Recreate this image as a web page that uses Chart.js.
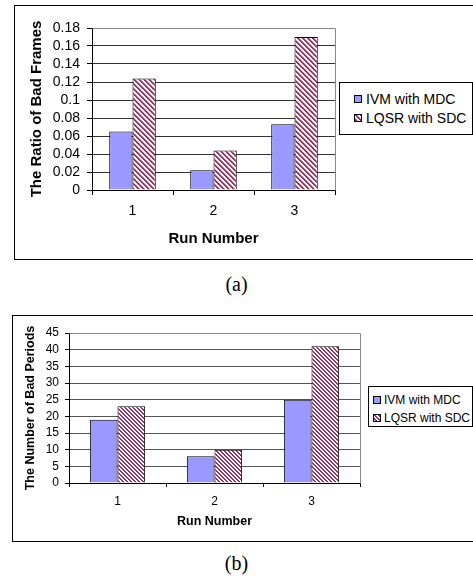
<!DOCTYPE html>
<html>
<head>
<meta charset="utf-8">
<script src="https://cdn.jsdelivr.net/npm/chart.js@4.4.0/dist/chart.umd.min.js"></script>
<style>
  html, body { margin:0; padding:0; background:#fff; }
  body { width:473px; height:584px; overflow:hidden; position:relative; font-family:"Liberation Sans", Arial, sans-serif; }
  .frame { position:absolute; border:1px solid #000; background:#fff; }
  .frame canvas { position:absolute; left:0; top:0; }
  .leg { position:absolute; border:1px solid #000; background:#fff; box-sizing:border-box; color:#000; }
  .it { position:absolute; white-space:nowrap; }
  .sw { position:absolute; box-sizing:border-box; border:1px solid #000; }
  .cap { position:absolute; font-family:"Liberation Serif", "Times New Roman", serif; font-size:20px; color:#000; width:473px; text-align:center; }
</style>
</head>
<body>
<div class="frame" id="frameA" style="left:14px; top:5px; width:480px; height:253px;">
  <canvas id="chartA" width="459" height="253"></canvas>
</div>
<div class="leg" id="legA" style="left:339px; top:82px; width:134px; height:53px;"></div>
<div class="cap" style="top:273px; left:0;">(a)</div>

<div class="frame" id="frameB" style="left:12px; top:315px; width:480px; height:225px;">
  <canvas id="chartB" width="461" height="225"></canvas>
</div>
<div class="leg" id="legB" style="left:368px; top:386px; width:105px; height:41px;"></div>
<div class="cap" style="top:552px; left:0;">(b)</div>

<script>
// ---- data ----
const runs = ['1', '2', '3'];
const seriesNames = ['IVM with MDC', 'LQSR with SDC'];
const ratioIVM  = [0.065, 0.022, 0.073];
const ratioLQSR = [0.124, 0.044, 0.170];
const periodsIVM  = [19, 8, 25];
const periodsLQSR = [23, 10, 41];
const ticksA = [0, 0.02, 0.04, 0.06, 0.08, 0.1, 0.12, 0.14, 0.16, 0.18];
const ticksB = [0, 5, 10, 15, 20, 25, 30, 35, 40, 45];
const titleYA = 'The Ratio of Bad Frames';
const titleYB = 'The Number of Bad Periods';
const titleX = 'Run Number';

const BLUE = '#9999ff';
const MAROON = [153, 51, 102];

// pixel-exact "\" hatch tile: weights per diagonal offset
function hatchTile(weights) {
  const n = weights.length;
  const c = document.createElement('canvas');
  c.width = n; c.height = n;
  const x = c.getContext('2d');
  const img = x.createImageData(n, n);
  for (let py = 0; py < n; py++) {
    for (let px = 0; px < n; px++) {
      const w = weights[((px - py) % n + n) % n];
      const i = (py * n + px) * 4;
      img.data[i]     = Math.round(255 + (MAROON[0] - 255) * w);
      img.data[i + 1] = Math.round(255 + (MAROON[1] - 255) * w);
      img.data[i + 2] = Math.round(255 + (MAROON[2] - 255) * w);
      img.data[i + 3] = 255;
    }
  }
  x.putImageData(img, 0, 0);
  return c;
}

const plotBorder = {
  id: 'plotBorder',
  afterDatasetsDraw(chart, args, opts) {
    const a = chart.chartArea, ctx = chart.ctx;
    ctx.save();
    ctx.strokeStyle = opts.color || '#888';
    ctx.lineWidth = 1;
    ctx.beginPath();
    ctx.moveTo(Math.round(a.left) + 0.5, Math.round(a.top) + 0.5);
    ctx.lineTo(Math.round(a.right) + 0.5, Math.round(a.top) + 0.5);
    ctx.lineTo(Math.round(a.right) + 0.5, Math.round(a.bottom) + 0.5);
    ctx.stroke();
    ctx.restore();
  }
};

function makeChart(canvasId, cfg) {
  const tileEl = hatchTile(cfg.hatch);
  const ctx = document.getElementById(canvasId).getContext('2d');
  const pattern = ctx.createPattern(tileEl, 'repeat');
  const tickFont = { family: 'Liberation Sans', size: cfg.tickSize };
  const titleFont = { family: 'Liberation Sans', size: cfg.titleSize, weight: 'bold' };
  new Chart(ctx, {
    type: 'bar',
    data: {
      labels: runs,
      datasets: [
        { label: seriesNames[0], data: cfg.s1, backgroundColor: BLUE, borderColor: '#000', borderWidth: 1 },
        { label: seriesNames[1], data: cfg.s2, backgroundColor: pattern, borderColor: '#000', borderWidth: 1 }
      ]
    },
    options: {
      responsive: false,
      animation: false,
      devicePixelRatio: 1,
      layout: { padding: { left: 0, top: cfg.top, right: cfg.right, bottom: 0 } },
      datasets: { bar: { barPercentage: 1, categoryPercentage: cfg.catPct } },
      plugins: { legend: { display: false }, tooltip: { enabled: false }, plotBorder: { color: '#888' } },
      scales: {
        x: {
          grid: { offset: true, drawOnChartArea: false, drawTicks: true, tickLength: cfg.tickLen, color: '#000' },
          border: { color: '#000', width: 1 },
          ticks: { color: '#000', font: tickFont, padding: cfg.xTickPad, maxRotation: 0, autoSkip: false },
          title: { display: true, text: titleX, color: '#000', font: titleFont, padding: { top: 0, bottom: cfg.xTitlePad } },
          afterFit(s) { s.height = cfg.xH; }
        },
        y: {
          min: cfg.ticks[0],
          max: cfg.ticks[cfg.ticks.length - 1],
          afterBuildTicks(s) { s.ticks = cfg.ticks.map(v => ({ value: v })); },
          grid: { color: cfg.gridColor, tickColor: '#000', drawTicks: true, tickLength: cfg.tickLen },
          border: { color: '#000', width: 1 },
          ticks: { color: '#000', font: tickFont, padding: cfg.yTickPad, autoSkip: false, callback: v => String(v) },
          title: { display: true, text: cfg.yTitle, color: '#000', font: titleFont, padding: { top: cfg.yTitlePad, bottom: 0 } },
          afterFit(s) { s.width = cfg.yW; }
        }
      }
    },
    plugins: [plotBorder]
  });
  return tileEl;
}

const tileA = makeChart('chartA', {
  s1: ratioIVM, s2: ratioLQSR, ticks: ticksA, yTitle: titleYA,
  hatch: [1, 1, 0.45, 0, 0], tickSize: 14, titleSize: 15,
  top: 22, right: 459 - 320, yW: 77, xH: 253 - 184,
  catPct: 0.575, tickLen: 5, xTickPad: 8, xTitlePad: 11, yTickPad: 7, yTitlePad: 13,
  gridColor: '#333'
});
const tileB = makeChart('chartB', {
  s1: periodsIVM, s2: periodsLQSR, ticks: ticksB, yTitle: titleYB,
  hatch: [1, 1, 0, 0], tickSize: 12, titleSize: 12.5,
  top: 17, right: 461 - 347, yW: 56, xH: 225 - 167,
  catPct: 0.57, tickLen: 4, xTickPad: 7, xTitlePad: 12, yTickPad: 6, yTitlePad: 10,
  gridColor: '#555'
});

function buildLegend(id, tile, fontSize, swSize, swLeft, textLeft, rows) {
  const leg = document.getElementById(id);
  const fills = [BLUE, 'url(' + tile.toDataURL() + ')'];
  seriesNames.forEach((name, i) => {
    const it = document.createElement('div');
    it.className = 'it';
    it.style.left = '0px';
    it.style.top = (rows[i] - fontSize * 0.6) + 'px';
    it.style.fontSize = fontSize + 'px';
    it.style.lineHeight = (fontSize * 1.2) + 'px';
    const sw = document.createElement('span');
    sw.className = 'sw';
    sw.style.width = swSize + 'px';
    sw.style.height = swSize + 'px';
    sw.style.left = swLeft + 'px';
    sw.style.top = ((fontSize * 1.2 - swSize) / 2) + 'px';
    sw.style.background = fills[i];
    const tx = document.createElement('span');
    tx.style.position = 'absolute';
    tx.style.left = textLeft + 'px';
    tx.textContent = name;
    it.appendChild(sw);
    it.appendChild(tx);
    leg.appendChild(it);
  });
}
buildLegend('legA', tileA, 14, 8, 14, 26, [16, 35]);
buildLegend('legB', tileB, 12, 8, 4, 15, [13, 31]);
</script>
</body>
</html>
